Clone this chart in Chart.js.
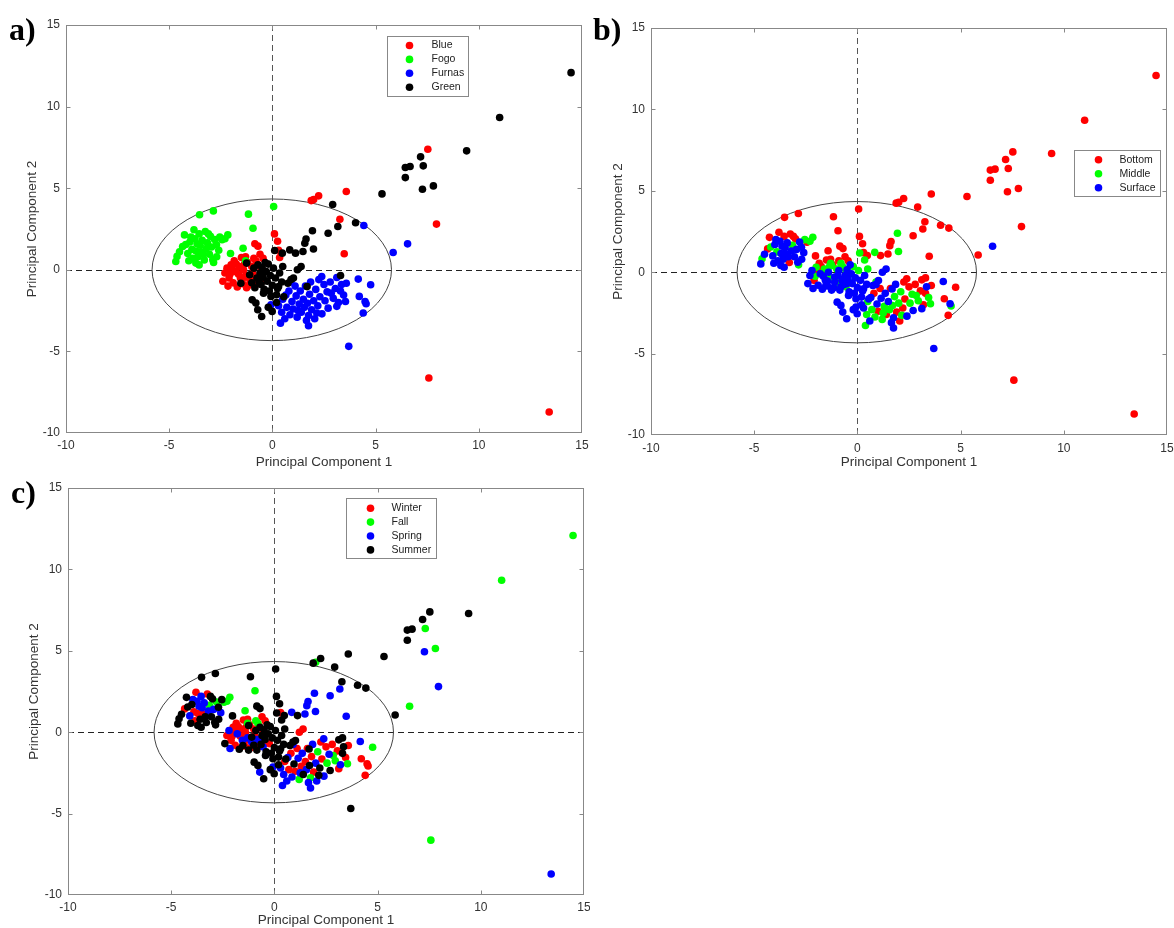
<!DOCTYPE html>
<html>
<head>
<meta charset="utf-8">
<script src="https://cdn.jsdelivr.net/npm/chart.js@4.4.1/dist/chart.umd.min.js"></script>
<style>
  html, body { margin: 0; padding: 0; background: #fff; }
  body { width: 1174px; height: 928px; position: relative; overflow: hidden; }
  .panel { position: absolute; }
  .tag { position: absolute; font: bold 32px 'Liberation Serif', 'Times New Roman', serif; line-height: 32px; color: #000; }
</style>
</head>
<body>
<div class="panel" style="left:0;top:0;width:590px;height:470px"><canvas id="chart-site"></canvas></div>
<div class="panel" style="left:585px;top:0;width:589px;height:470px"><canvas id="chart-depth"></canvas></div>
<div class="panel" style="left:0;top:470px;width:590px;height:458px"><canvas id="chart-season"></canvas></div>
<div class="tag" style="left:9px;top:13px">a)</div>
<div class="tag" style="left:593px;top:13px">b)</div>
<div class="tag" style="left:11px;top:476px">c)</div>

<script>
// group names for the three panels
const siteNames = ['Blue', 'Fogo', 'Furnas', 'Green'];
const depthNames = ['Bottom', 'Middle', 'Surface'];
const seasonNames = ['Winter', 'Fall', 'Spring', 'Summer'];

// PCA scores [PC1, PC2], grouped by site (panel a)
// depth codes: b = Bottom, m = Middle, s = Surface
// season codes: w = Winter, f = Fall, p = Spring, s = Summer
const blueSite = [
  [7.53, 7.39], [7.95, 2.8], [7.58, -6.63], [13.41, -8.71], [3.58, 4.8],
  [2.24, 4.53], [1.88, 4.24], [2.0, 4.3], [3.27, 3.1], [3.48, 0.98],
  [0.1, 2.2], [0.25, 1.75], [-0.85, 1.6], [-0.7, 1.45], [0.3, 1.2],
  [0.35, 0.75], [-0.6, 0.95], [-0.45, 0.7], [-0.8, 0.55], [-1.3, 0.8],
  [-2.3, -0.2], [-2.2, 0.1], [-2.1, -0.5], [-2.0, 0.3], [-1.9, -0.8],
  [-1.85, 0.55], [-1.8, -0.1], [-1.7, -1.05], [-1.6, 0.2], [-1.55, -0.5],
  [-1.5, 0.75], [-1.45, -0.85], [-1.4, 0.0], [-1.3, -0.35], [-1.25, -1.1],
  [-1.2, 0.45], [-1.1, -0.6], [-1.0, 0.2], [-0.95, -0.2], [-0.9, 0.7],
  [-0.8, -0.9], [-0.75, 0.35], [-0.65, -0.4], [-0.55, 0.1], [-0.5, -0.7],
  [-2.4, -0.7], [-2.15, -1.0], [-1.95, 0.05], [-1.65, -0.25], [-1.35, 0.35],
  [-1.75, 0.35], [-2.05, -0.25], [-1.15, -0.95], [-0.85, -0.45], [-1.45, -0.55]
];
const blueDepth = 'bbbbb bbbbb bbbbb mbbmb ssbms bssms bssms bsmsb smsms ssbsm bmsms';
const blueSeason = 'spfps ssfsp ssssw swwfw wpwww wpswp wwwps wpwwf wwpww spwww wwwpw';

const fogoSite = [
  [0.06, 3.88], [-1.16, 3.41], [-2.86, 3.61], [-3.53, 3.37], [-0.94, 2.55],
  [-1.42, 1.32], [-2.03, 1.0], [-2.16, 2.14], [-2.44, 1.84], [-2.71, 1.53],
  [-4.62, 0.82], [-4.68, 0.51], [-4.35, 1.43], [-4.26, 2.14], [-3.8, 2.45],
  [-3.71, 0.41], [-2.89, 0.61], [-4.1, 1.0], [-4.0, 1.7], [-3.9, 1.25],
  [-3.75, 1.9], [-3.6, 0.8], [-3.55, 2.2], [-3.5, 1.5], [-3.45, 1.1],
  [-3.4, 1.8], [-3.3, 0.6], [-3.25, 2.35], [-3.2, 1.3], [-3.15, 1.65],
  [-3.05, 0.95], [-3.0, 2.05], [-2.95, 1.4], [-2.85, 0.45], [-2.8, 1.85],
  [-3.85, 0.7], [-3.65, 1.6], [-4.2, 1.55], [-3.35, 0.95], [-2.6, 1.2],
  [-4.5, 1.1], [-3.1, 2.2], [-3.95, 2.0], [-2.7, 0.8], [-3.7, 1.15],
  [-2.3, 1.9], [-1.3, 0.55], [-2.55, 2.0], [-3.55, 0.3], [-4.05, 0.55]
];
const fogoDepth = 'bbbbb bbmbs msbbb ssssm ssbss sbbsm sbsms ssmss sbsss mmmss';
const fogoSeason = 'ssssf fsffs sswsw sspsw psppw pswpf sspsf wpssp sspsw ffsss';

const furnasSite = [
  [4.43, 2.71], [6.55, 1.59], [5.85, 1.06], [3.7, -4.69], [4.76, -0.92],
  [4.16, -0.57], [4.21, -1.63], [4.49, -1.94], [4.54, -2.08], [4.4, -2.65],
  [1.75, -3.43], [0.39, -3.27], [-0.07, -2.14], [3.58, -0.82], [3.12, -0.47],
  [2.39, -0.41], [2.85, -1.43], [3.54, -1.94], [3.12, -2.24], [3.3, -1.3],
  [0.3, -2.2], [0.45, -2.6], [0.5, -1.8], [0.6, -3.0], [0.7, -2.3],
  [0.8, -1.3], [0.85, -2.75], [0.95, -1.95], [1.0, -2.4], [1.1, -1.0],
  [1.15, -1.6], [1.2, -2.9], [1.3, -2.1], [1.35, -1.3], [1.4, -2.6],
  [1.5, -1.8], [1.55, -2.3], [1.6, -1.0], [1.7, -2.05], [1.75, -2.8],
  [1.8, -1.5], [1.85, -0.75], [1.9, -2.45], [2.0, -1.9], [2.05, -3.0],
  [2.1, -1.2], [2.2, -2.2], [2.3, -1.65], [2.4, -2.7], [2.5, -0.9],
  [2.55, -1.9], [2.65, -1.35], [2.7, -2.35], [2.8, -0.75], [2.95, -1.75],
  [3.05, -1.15], [3.2, -2.0], [3.35, -0.9], [3.45, -1.55], [2.25, -0.6],
  [0.9, -0.75], [1.25, -2.5], [1.65, -3.1], [2.15, -2.65], [0.65, -1.55]
];
const furnasDepth = 'bsbsb sbsmb smsbb bmmsb smmsm bmsbb smmsb smbms msbmb mbbsb mmsbm bbsmb smsms';
const furnasSeason = 'sfssf pwwww pppws pffws ppwpw wpsww pfwps wpwsf wpwpp fswpw fpswf wpsww pppsp';

const greenSite = [
  [14.47, 12.08], [11.01, 9.33], [9.41, 7.29], [7.18, 6.92], [7.31, 6.37],
  [6.44, 6.27], [6.67, 6.33], [6.44, 5.65], [7.27, 4.94], [7.8, 5.14],
  [5.31, 4.65], [2.92, 4.0], [4.03, 2.88], [3.17, 2.65], [2.7, 2.24],
  [1.94, 2.39], [1.63, 1.88], [1.57, 1.63], [1.99, 1.27], [1.48, 1.12],
  [1.12, 1.02], [0.84, 1.22], [0.48, 1.02], [0.11, 1.18], [1.39, 0.2],
  [1.21, 0.0], [3.3, -0.35], [1.02, -0.51], [0.75, -0.82], [0.3, -1.02],
  [-0.07, -1.63], [0.2, -1.53], [-0.43, -1.43], [-0.98, -1.84], [-0.8, -2.04],
  [-0.71, -2.45], [-0.52, -2.86], [-0.01, -2.55], [-1.25, 0.41], [-1.53, -0.82],
  [-1.1, -0.3], [-1.0, -0.8], [-0.9, 0.1], [-0.85, -1.1], [-0.75, -0.5],
  [-0.7, 0.3], [-0.6, -0.2], [-0.55, -0.9], [-0.5, 0.15], [-0.45, -0.45],
  [-0.4, -1.2], [-0.3, -0.1], [-0.25, -0.7], [-0.2, 0.35], [-0.1, -0.35],
  [0.0, -0.95], [0.05, 0.1], [0.15, -0.5], [0.25, -1.15], [0.35, -0.2],
  [0.45, -0.75], [0.5, 0.2], [-0.65, -0.75], [-0.35, 0.45], [-0.15, -1.3],
  [0.55, -1.65], [1.68, -1.03], [0.2, -2.0], [-0.2, -2.3], [0.9, -0.6]
];
const greenDepth = 'bbbbb bbbbb bbbbb mbbmb bmbms sbsss sssss sssms smsss msmss sssms smsss smsss ssssm';
const greenSeason = 'ffssf ssspf ssspp ppppp spssw wssss sssss pssss ssssw sspss sswss sssss sssss sssss';

const palette = ['#ff0000', '#00ff00', '#0000ff', '#000000'];

const sites = [
  { pts: blueSite, depth: blueDepth, season: blueSeason },
  { pts: fogoSite, depth: fogoDepth, season: fogoSeason },
  { pts: furnasSite, depth: furnasDepth, season: furnasSeason },
  { pts: greenSite, depth: greenDepth, season: greenSeason }
];

function codes(str) {
  return str.replace(/\s/g, '').split('');
}

function toXY(p) {
  return { x: p[0], y: p[1] };
}

function groupBy(key, letters) {
  return letters.map(letter => {
    const out = [];
    sites.forEach(site => {
      const c = codes(site[key]);
      if (c.length !== site.pts.length) console.warn('code length mismatch', key, c.length, site.pts.length);
      site.pts.forEach((p, i) => {
        if (c[i] === letter) out.push(toXY(p));
      });
    });
    return out;
  });
}

const siteGroups = sites.map(s => s.pts.map(toXY));
const depthGroups = groupBy('depth', ['b', 'm', 's']);
const seasonGroups = groupBy('season', ['w', 'f', 'p', 's']);

// 95% confidence ellipse drawn around the scores
const ellipse = { cx: -0.03, cy: 0, rx: 5.8, ry: 4.34 };

const textColor = '#333';
const sans = '"Liberation Sans", Arial, Helvetica, sans-serif';

const framePlugin = {
  id: 'frame',
  beforeDatasetsDraw(chart) {
    const { ctx, chartArea: a, scales: { x, y } } = chart;
    const x0 = Math.round(x.getPixelForValue(0)) + 0.5;
    const y0 = Math.round(y.getPixelForValue(0)) + 0.5;
    ctx.save();
    ctx.lineWidth = 1;
    ctx.setLineDash([6, 4]);
    ctx.strokeStyle = '#555';
    ctx.beginPath();
    ctx.moveTo(x0, a.top);
    ctx.lineTo(x0, a.bottom);
    ctx.stroke();
    ctx.strokeStyle = '#222';
    ctx.beginPath();
    ctx.moveTo(a.left, y0);
    ctx.lineTo(a.right, y0);
    ctx.stroke();
    ctx.setLineDash([]);
    ctx.strokeStyle = '#444';
    const cx = x.getPixelForValue(ellipse.cx);
    const cy = y.getPixelForValue(ellipse.cy);
    const rx = x.getPixelForValue(ellipse.cx + ellipse.rx) - cx;
    const ry = cy - y.getPixelForValue(ellipse.cy + ellipse.ry);
    ctx.beginPath();
    ctx.ellipse(cx, cy, rx, ry, 0, 0, Math.PI * 2);
    ctx.stroke();
    ctx.restore();
  },
  afterDatasetsDraw(chart, args, opts) {
    const { ctx, chartArea: a } = chart;
    const L = opts.legend;
    const left = Math.round(a.left + L.dx) + 0.5;
    const top = Math.round(a.top + L.dy) + 0.5;
    ctx.save();
    ctx.fillStyle = '#fff';
    ctx.fillRect(left, top, L.w, L.h);
    ctx.strokeStyle = '#888';
    ctx.lineWidth = 1;
    ctx.strokeRect(left, top, L.w, L.h);
    ctx.font = '10.5px ' + sans;
    ctx.textBaseline = 'middle';
    chart.data.datasets.forEach((ds, i) => {
      const rowY = top + L.first + i * L.step;
      ctx.fillStyle = ds.backgroundColor;
      ctx.beginPath();
      ctx.arc(left + L.dot, rowY, 3.8, 0, Math.PI * 2);
      ctx.fill();
      ctx.fillStyle = '#222';
      ctx.fillText(ds.label, left + L.text, rowY);
    });
    ctx.restore();
  },
  afterDraw(chart) {
    const { ctx, chartArea: a, scales: { x, y } } = chart;
    const l = Math.round(a.left) + 0.5, r = Math.round(a.right) - 0.5;
    const t = Math.round(a.top) + 0.5, b = Math.round(a.bottom) - 0.5;
    ctx.save();
    ctx.strokeStyle = '#888';
    ctx.lineWidth = 1;
    ctx.strokeRect(l, t, r - l, b - t);
    ctx.beginPath();
    x.ticks.forEach(tk => {
      const px = Math.round(x.getPixelForValue(tk.value)) + 0.5;
      if (px <= l + 1 || px >= r - 1) return;
      ctx.moveTo(px, b); ctx.lineTo(px, b - 4);
      ctx.moveTo(px, t); ctx.lineTo(px, t + 4);
    });
    y.ticks.forEach(tk => {
      const py = Math.round(y.getPixelForValue(tk.value)) + 0.5;
      if (py <= t + 1 || py >= b - 1) return;
      ctx.moveTo(l, py); ctx.lineTo(l + 4, py);
      ctx.moveTo(r, py); ctx.lineTo(r - 4, py);
    });
    ctx.stroke();
    ctx.restore();
  }
};

function makeDatasets(names, groups) {
  return names.map((name, i) => ({
    label: name,
    data: groups[i],
    backgroundColor: palette[i],
    borderWidth: 0,
    pointRadius: 3.8,
    pointHoverRadius: 3.8,
    order: names.length - i
  }));
}

function axis(titleText, titlePad, tickPad, fit) {
  return {
    type: 'linear',
    min: -10,
    max: 15,
    ticks: { stepSize: 5, padding: tickPad, color: textColor, font: { family: sans, size: 12 } },
    grid: { display: false, drawTicks: false },
    border: { display: false },
    title: { display: true, text: titleText, color: textColor, font: { family: sans, size: 13.5 }, padding: titlePad },
    afterFit: fit
  };
}

function drawPanel(id, names, groups, box) {
  new Chart(document.getElementById(id), {
    type: 'scatter',
    data: { datasets: makeDatasets(names, groups) },
    options: {
      animation: false,
      responsive: true,
      maintainAspectRatio: false,
      events: [],
      layout: { padding: { left: 0, top: box.top, right: box.right, bottom: 0 } },
      scales: {
        x: axis('Principal Component 1', { top: 0, bottom: 0 }, box.xPad, s => {
          s.height = box.xHeight;
          s.paddingLeft = 0;
          s.paddingRight = 0;
        }),
        y: axis('Principal Component 2', { top: box.yTitle, bottom: 0 }, 6, s => {
          s.width = box.yWidth;
          s.paddingTop = 0;
          s.paddingBottom = 0;
        })
      },
      plugins: {
        legend: { display: false },
        tooltip: { enabled: false },
        frame: { legend: box.legend }
      }
    },
    plugins: [framePlugin]
  });
}

drawPanel('chart-site', siteNames, siteGroups, {
  top: 25, right: 8, yWidth: 66, xHeight: 37, xPad: 5, yTitle: 24,
  legend: { dx: 321, dy: 11, w: 81, h: 60, first: 9, step: 13.9, dot: 22, text: 44 }
});
drawPanel('chart-depth', depthNames, depthGroups, {
  top: 28, right: 7, yWidth: 66, xHeight: 35, xPad: 6, yTitle: 25,
  legend: { dx: 423, dy: 122, w: 86, h: 46, first: 9.3, step: 14, dot: 24, text: 45 }
});
drawPanel('chart-season', seasonNames, seasonGroups, {
  top: 18, right: 6, yWidth: 68, xHeight: 33, xPad: 5, yTitle: 26,
  legend: { dx: 278, dy: 10, w: 90, h: 60, first: 9.7, step: 13.9, dot: 24, text: 45 }
});
</script>
</body>
</html>
